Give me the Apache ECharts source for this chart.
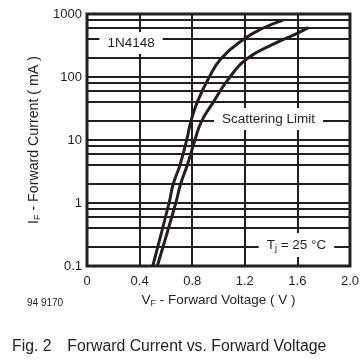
<!DOCTYPE html>
<html><head><meta charset="utf-8">
<script src="https://cdn.jsdelivr.net/npm/echarts@6/dist/echarts.min.js"></script>
<style>html,body{margin:0;padding:0;background:#fff}#c{width:362px;height:363px}</style>
</head><body><div id="c"></div>
<script>
// Curve 1 (left) : forward voltage (V) and forward current (mA)
const vfLeft = [0.500, 0.624, 0.656, 0.707, 0.758, 0.791, 0.839, 0.930, 1.024, 1.194, 1.341, 1.493];
const ifLeft = [0.1, 1, 2, 4, 10, 20, 40, 100, 200, 400, 600, 800];
// Curve 2 (right)
const vfRight = [0.535, 0.675, 0.712, 0.763, 0.821, 0.872, 0.961, 1.087, 1.225, 1.417, 1.595, 1.683];
const ifRight = [0.1, 1, 2, 4, 10, 20, 40, 100, 200, 332, 489, 607];
// Axis ticks
const xTicks = ['0', '0.4', '0.8', '1.2', '1.6', '2.0'];
const yTicks = ['0.1', '1', '10', '100', '1000'];
// Horizontal grid lines (log axis)
const yGrid = [0.2, 0.4, 0.6, 0.8, 1, 2, 4, 6, 8, 10, 20, 40, 60, 80, 100, 200, 400, 600, 800];
// Annotations: [V, I, text]
const notes = [
  [0.335, 400, '1N4148'],
  [1.373, 20, 'Scattering Limit'],
  [1.593, 0.2, '{a|T}{b|j}{a| = 25 °C}']
];

const INK = '#231f20';
const FONT = 'Liberation Sans, Arial, Helvetica, sans-serif';
const chart = echarts.init(document.getElementById('c'), null, {renderer: 'canvas'});

const zip = (a, b) => a.map((v, i) => [v, b[i]]);
const richSub = (fs) => ({
  a: {fontSize: fs, color: INK, fontFamily: FONT, lineHeight: 16},
  b: {fontSize: 9, color: INK, fontFamily: FONT, lineHeight: 16, verticalAlign: 'bottom', padding: [6, 0, 0, 0]}
});
const labelOffsets = [[0, 4], [1, -2], [0, -2]];

chart.setOption({
  animation: false,
  backgroundColor: '#fff',
  textStyle: {fontFamily: FONT, color: INK},
  grid: {left: 87, right: 12, top: 14, bottom: 97, show: true, borderColor: INK, borderWidth: 3, backgroundColor: 'transparent'},
  xAxis: {
    type: 'value', min: 0, max: 2, interval: 0.4,
    axisLine: {show: false}, axisTick: {show: false},
    splitLine: {show: true, lineStyle: {color: INK, width: 2}},
    axisLabel: {margin: 9, fontSize: 13, color: INK, fontFamily: FONT,
      formatter: v => xTicks[Math.round(v / 0.4)]},
    name: '{a|V}{b|F}{a| - Forward Voltage ( V )}',
    nameLocation: 'middle', nameGap: 25,
    nameTextStyle: {rich: richSub(13.5)}
  },
  yAxis: {
    type: 'log', logBase: 10, min: 0.1, max: 1000,
    axisLine: {show: false}, axisTick: {show: false},
    splitLine: {show: false},
    axisLabel: {margin: 5, fontSize: 13, color: INK, fontFamily: FONT,
      formatter: v => yTicks[Math.round(Math.log10(v)) + 1]},
    name: '{a|I}{b|F}{a| - Forward Current ( mA )}',
    nameLocation: 'middle', nameGap: 44,
    nameTextStyle: {rich: richSub(14.2)}
  },
  series: [
    {
      type: 'line', data: [], z: 1, silent: true,
      markLine: {
        silent: true, symbol: 'none', animation: false,
        label: {show: false},
        lineStyle: {type: 'solid', color: INK, width: 2},
        data: yGrid.map(v => ({yAxis: v}))
      }
    },
    {
      type: 'line', data: [], z: 3, silent: true,
      markPoint: {
        silent: true, symbol: 'rect', symbolSize: 0, animation: false,
        data: notes.map((n, i) => ({coord: [n[0], n[1]], value: n[2], label: {offset: labelOffsets[i]}})),
        label: {
          show: true, position: 'inside', formatter: p => p.value,
          backgroundColor: '#fff', padding: [4, 8], fontSize: 13.5, color: INK, fontFamily: FONT,
          rich: richSub(13.5)
        }
      }
    },
    {type: 'line', data: zip(vfLeft, ifLeft), smooth: 0.5, showSymbol: false, z: 4,
      lineStyle: {color: INK, width: 3}},
    {type: 'line', data: zip(vfRight, ifRight), smooth: 0.5, showSymbol: false, z: 4,
      lineStyle: {color: INK, width: 3}}
  ],
  graphic: [
    {type: 'text', left: 27, top: 298, style: {text: '94 9170', fontSize: 10, fill: INK, fontFamily: FONT}},
    {type: 'text', left: 12, top: 339, style: {text: 'Fig. 2\u2002\u2002Forward Current vs. Forward Voltage', fontSize: 15.8, fill: INK, fontFamily: FONT}}
  ]
});
</script></body></html>
